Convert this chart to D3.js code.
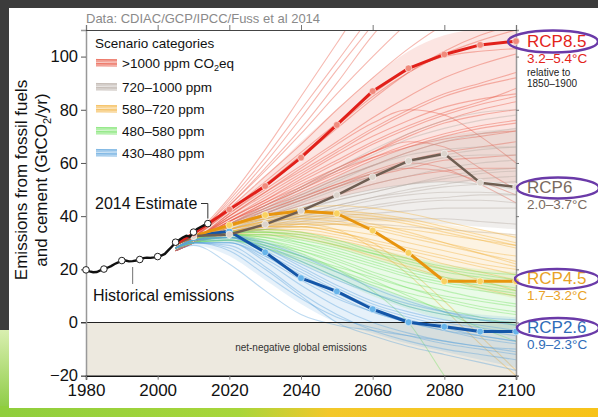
<!DOCTYPE html>
<html>
<head>
<meta charset="utf-8">
<script src="https://d3js.org/d3.v7.min.js"></script>
<style>
  body { margin: 0; background: #fff; }
  svg { display: block; font-family: "Liberation Sans", Arial, Helvetica, sans-serif; }
</style>
</head>
<body>
<svg id="chart" width="598" height="417"></svg>
<script>
// ---- data ----
const histYears = d3.range(1980, 2015);
const histValues = [19.8, 19.2, 18.9, 19.0, 19.6, 20.1, 20.6, 21.2, 22.0, 22.6,
                    23.3, 23.3, 23.0, 23.1, 23.3, 23.7, 24.2, 24.4, 24.3, 24.5,
                    24.8, 25.2, 25.8, 27.2, 28.6, 30.2, 31.0, 32.0, 32.6, 32.3,
                    34.0, 35.2, 35.9, 36.6, 37.2];
const histMarkYears = [1980, 1985, 1990, 1995, 2000, 2005, 2010, 2014];

const scenYears = [2005, 2010, 2020, 2030, 2040, 2050, 2060, 2070, 2080, 2090, 2100];

const rcpNames = ["RCP8.5", "RCP6", "RCP4.5", "RCP2.6"];
const rcpRanges = ["3.2–5.4°C", "2.0–3.7°C", "1.7–3.2°C", "0.9–2.3°C"];
const rcp85 = [29.5, 33.5, 42.5, 51.3, 62.0, 74.3, 87.0, 95.6, 100.8, 104.4, 105.8];
const rcp6  = [29.5, 32.5, 33.1, 36.9, 42.0, 47.9, 54.7, 60.8, 63.5, 52.6, 51.0];
const rcp45 = [29.5, 32.5, 36.6, 40.4, 41.9, 41.0, 34.6, 26.2, 15.5, 15.5, 15.5];
const rcp26 = [29.5, 32.5, 34.3, 26.4, 16.7, 11.7, 5.0, 0.1, -1.6, -3.4, -3.4];

const categories = [">1000 ppm", "720–1000 ppm", "580–720 ppm", "480–580 ppm", "430–480 ppm"];

// dense core of each scenario fan (lower / upper edge at scenYears)
const redCoreLo = [27, 30, 36, 40, 44, 47, 50, 52, 53, 53, 52];
const redCoreHi = [29, 33, 43, 55, 68, 80, 92, 102, 108, 110, 110];
const grayCoreLo = [27, 30, 33, 35, 37, 38, 38, 38, 37, 36, 35];
const grayCoreHi = [28, 31, 37, 43, 49, 55, 61, 66, 70, 72, 73];
const orangeCoreLo = [27, 30, 32, 32, 31, 28, 24, 20, 16, 12, 9];
const orangeCoreHi = [28, 31, 36, 40, 42, 42, 41, 39, 37, 35, 33];
const greenCoreLo = [27, 30, 30, 27, 22, 16, 10, 5, 1, -2, -4];
const greenCoreHi = [28, 31, 34, 35, 34, 31, 28, 25, 22, 20, 19];
const blueCoreLo = [27, 29, 25, 16, 7, 0, -4, -8, -11, -14, -17];
const blueCoreHi = [28, 31, 33, 31, 26, 20, 14, 9, 5, 3, 2];

// scenario members per category (values at scenYears)
const redRuns = [
  [29,33,47,65,85,105,125,140,150,160,170],
  [29,33,45,60,77,95,112,130,145,160,170],
  [28,32,44,57,71,86,100,113,125,135,145],
  [28,32,43,55,67,80,92,103,112,118,122],
  [28,32,42,52,63,74,85,94,101,106,110],
  [28,31,41,50,59,68,77,85,92,97,101],
  [28,31,40,48,56,64,72,79,85,89,92],
  [27,31,39,46,53,60,67,73,78,82,85],
  [27,31,38,45,52,58,64,70,75,78,80],
  [27,30,38,44,50,56,62,67,71,74,76],
  [27,30,37,43,48,54,59,64,68,70,72],
  [27,30,37,42,47,52,57,61,64,66,68],
  [27,30,36,41,46,51,55,58,61,62,63],
  [27,30,36,41,46,51,56,60,58,52,45],
  [27,30,37,44,51,58,64,68,66,58,50],
  [28,31,40,49,58,67,75,80,78,70,60],
  [27,30,36,40,44,48,52,55,57,58,58],
  [28,32,42,53,64,75,86,95,100,102,103],
  [27,30,36,42,47,52,56,58,57,53,48],
  [28,31,41,51,62,73,84,94,102,108,112],
  [28,32,44,58,73,90,108,122,132,140,146],
  [28,31,39,47,55,63,70,76,81,84,86],
  [27,30,38,45,51,57,62,66,69,71,72],
  [28,31,40,49,57,65,73,80,86,90,94],
  [28,32,46,62,80,98,116,132,146,158,168],
  [27,30,37,43,49,55,61,66,70,73,75],
  [28,31,39,46,54,61,68,74,79,83,88],
  [27,31,38,44,50,57,64,71,76,80,83]
];
const grayRuns = [
  [28,31,36,41,46,51,56,60,63,65,66],
  [28,31,36,40,44,48,52,55,58,60,61],
  [28,31,35,39,43,46,49,52,54,56,57],
  [28,31,35,38,41,44,47,49,51,52,53],
  [28,30,34,37,40,42,44,46,47,48,48],
  [28,30,34,36,38,40,41,42,43,43,43],
  [28,30,33,35,37,38,39,39,39,38,37],
  [28,31,36,41,47,53,59,64,68,71,73],
  [28,31,37,43,50,57,63,69,73,76,78],
  [28,30,34,37,40,43,46,48,49,49,48],
  [28,30,35,39,43,47,50,52,53,52,50],
  [28,30,33,35,36,37,37,36,35,34,33],
  [28,31,36,42,48,54,59,63,65,66,66],
  [28,30,34,38,42,46,49,52,55,57,58],
  [28,30,35,40,45,50,55,59,62,63,63],
  [28,30,33,36,39,41,43,45,46,46,45],
  [28,31,37,44,51,58,65,71,76,79,80],
  [28,30,34,37,41,44,47,50,52,54,55]
];
const orangeRuns = [
  [28,31,35,38,40,40,39,37,34,31,28],
  [28,31,35,37,38,37,35,32,29,26,23],
  [28,31,34,36,36,35,33,30,27,24,21],
  [28,31,35,38,39,39,37,34,30,26,22],
  [28,31,34,35,35,33,30,27,24,21,18],
  [28,31,36,39,41,42,41,39,36,33,30],
  [28,31,34,36,37,37,36,35,33,31,29],
  [28,31,34,35,34,32,29,26,22,19,16],
  [28,31,33,33,32,29,25,21,17,13,10],
  [28,31,35,37,37,35,28,18,5,-8,-20],
  [28,31,34,36,36,34,30,20,8,-5,-18],
  [28,31,36,40,43,44,43,41,38,35,32],
  [28,31,33,34,33,31,28,24,20,16,12],
  [28,31,35,38,39,38,36,33,30,27,25],
  [28,31,36,39,41,41,40,38,35,32,29],
  [28,31,34,36,36,34,31,28,25,22,20]
];
const greenRuns = [
  [28,31,33,32,29,25,21,17,14,12,10],
  [28,31,32,31,28,24,19,15,12,9,7],
  [28,31,33,33,31,28,24,20,17,15,13],
  [28,30,31,29,25,20,15,11,8,5,3],
  [28,31,34,34,32,29,26,23,20,18,16],
  [28,30,31,28,23,17,11,6,3,1,0],
  [28,31,33,31,27,22,16,10,4,-2,-7],
  [28,31,34,35,34,31,27,24,21,19,18],
  [28,30,32,30,26,20,12,0,-20,-40,-60],
  [28,31,32,30,27,23,18,13,9,6,4],
  [28,30,31,28,24,19,14,9,5,2,-1],
  [28,31,33,33,30,26,22,18,15,13,11],
  [28,31,33,32,30,27,23,19,16,14,12],
  [28,31,34,34,33,30,26,22,19,17,15],
  [28,30,32,29,25,21,17,13,10,8,6]
];
const blueRuns = [
  [28,31,32,27,20,13,7,3,0,-2,-4],
  [28,31,31,25,17,10,4,0,-3,-5,-7],
  [28,31,33,29,23,17,11,6,3,1,0],
  [28,30,30,23,14,6,0,-4,-7,-9,-11],
  [28,31,32,28,22,16,11,7,4,2,1],
  [28,30,29,21,11,3,-3,-7,-10,-12,-14],
  [28,31,33,30,25,19,13,8,4,1,-1],
  [28,30,30,24,16,9,4,0,-3,-6,-8],
  [28,30,27,18,9,2,-2,-5,-8,-10,-12],
  [28,31,32,26,19,12,6,2,-1,-3,-5],
  [28,30,28,20,10,0,-5,-9,-12,-15,-18],
  [27,29,22,12,3,-1,-3,-5,-7,-9,-10],
  [28,31,32,28,21,14,8,4,1,-1,-3],
  [28,30,30,25,18,11,5,1,-2,-5,-7]
];

const yTicks = [-20, 0, 20, 40, 60, 80, 100];
const xTicks = [1980, 2000, 2020, 2040, 2060, 2080, 2100];

// ---- colours ----
const runColors = ["#e8503c", "#b5aaa2", "#f2b13a", "#72e262", "#5aa2dc"];
const rcpColors = ["#e1201a", "#6f5e52", "#e8950e", "#1456a8"];
const rcpFill = ["#f08a7c", "#dcd4cc", "#f9d262", "#67b4ea"];
const rcpText = ["#e3241b", "#7a6a5e", "#e9a226", "#2f6cb8"];

const svg = d3.select("#chart");

// slide decoration behind the chart
const defs = svg.append("defs");
const gBand = defs.append("linearGradient").attr("id", "band");
gBand.append("stop").attr("offset", "0%").attr("stop-color", "#8fce3c");
gBand.append("stop").attr("offset", "40%").attr("stop-color", "#a8d63a");
gBand.append("stop").attr("offset", "55%").attr("stop-color", "#f3c82a");
gBand.append("stop").attr("offset", "100%").attr("stop-color", "#f7c31a");
const gSide = defs.append("linearGradient").attr("id", "side").attr("x1", 0).attr("y1", 0).attr("x2", 0).attr("y2", 1);
gSide.append("stop").attr("offset", "0%").attr("stop-color", "#d9efb0");
gSide.append("stop").attr("offset", "100%").attr("stop-color", "#86c83a");

svg.append("rect").attr("width", 598).attr("height", 417).attr("fill", "#3c3c3c");
svg.append("rect").attr("x", 0).attr("y", 330).attr("width", 40).attr("height", 87).attr("fill", "url(#side)");
svg.append("rect").attr("x", 0).attr("y", 406).attr("width", 598).attr("height", 11).attr("fill", "url(#band)");
svg.append("rect").attr("x", 9).attr("y", 8).attr("width", 589).attr("height", 400).attr("fill", "#fff");

// ---- scales ----
const x = d3.scaleLinear().domain([1980, 2100]).range([86, 516]);
const y = d3.scaleLinear().domain([-20, 110]).range([375.7, 30]);

// net-negative area
svg.append("rect")
  .attr("x", x(1980)).attr("y", y(0))
  .attr("width", x(2100) - x(1980)).attr("height", y(-20) - y(0))
  .attr("fill", "#ede9df");
svg.append("text").attr("x", 301).attr("y", 351).attr("text-anchor", "middle")
  .attr("font-size", 10).attr("fill", "#333").text("net-negative global emissions");

defs.append("clipPath").attr("id", "plot").append("rect")
  .attr("x", x(1980)).attr("y", y(110)).attr("width", x(2100) - x(1980)).attr("height", y(-20) - y(110));

// ---- scenario ensembles ----
const runLine = d3.line().x((d, i) => x(scenYears[i])).y(d => y(d)).curve(d3.curveMonotoneX);
const coreArea = d3.area().x(d => x(d[0])).y0(d => y(d[1])).y1(d => y(d[2])).curve(d3.curveMonotoneX);
const ens = svg.append("g").attr("clip-path", "url(#plot)");
const allRuns = [redRuns, grayRuns, orangeRuns, greenRuns, blueRuns];
const cores = [[redCoreLo, redCoreHi], [grayCoreLo, grayCoreHi], [orangeCoreLo, orangeCoreHi],
               [greenCoreLo, greenCoreHi], [blueCoreLo, blueCoreHi]];
allRuns.forEach((runs, k) => {
  ens.append("path")
    .attr("d", coreArea(scenYears.map((yr, i) => [yr, cores[k][0][i], cores[k][1][i]])))
    .attr("fill", runColors[k]).attr("fill-opacity", k === 1 ? 0.2 : 0.15);
  ens.append("g").selectAll("path").data(runs).join("path")
    .attr("d", runLine)
    .attr("fill", "none")
    .attr("stroke", runColors[k])
    .attr("stroke-opacity", 0.4)
    .attr("stroke-width", 1.1);
});

// zero line
svg.append("line").attr("x1", 81).attr("x2", x(2100)).attr("y1", y(0)).attr("y2", y(0))
  .attr("stroke", "#222").attr("stroke-width", 1.2);

// ---- axes ----
const axLeft = svg.append("g").attr("transform", `translate(${x(1980)},0)`)
  .call(d3.axisLeft(y).tickValues(yTicks).tickSize(5).tickPadding(3));
axLeft.select(".domain").attr("stroke", "#999").attr("stroke-width", 1.5);
axLeft.selectAll(".tick line").attr("stroke", "#555");
axLeft.selectAll("text").attr("font-size", 16.5).attr("fill", "#111");
axLeft.attr("font-family", null);

const axRight = svg.append("g").attr("transform", `translate(${x(2100)},0)`)
  .call(d3.axisRight(y).tickValues(yTicks).tickSize(3).tickFormat(""));
axRight.select(".domain").attr("stroke", "#999").attr("stroke-width", 1.5);
axRight.selectAll(".tick line").attr("stroke", "#777");

const axTop = svg.append("g").attr("transform", `translate(0,${y(110)})`)
  .call(d3.axisTop(x).tickValues(xTicks).tickSize(5).tickFormat(""));
axTop.select(".domain").attr("stroke", "#444").attr("stroke-width", 1.2);
axTop.selectAll(".tick line").attr("stroke", "#777");

const axBottom = svg.append("g").attr("transform", `translate(0,${y(-20)})`)
  .call(d3.axisBottom(x).tickValues(xTicks).tickSize(4).tickPadding(4).tickFormat(d3.format("d")));
axBottom.select(".domain").attr("stroke", "#111").attr("stroke-width", 1.5);
axBottom.selectAll(".tick line").attr("stroke", "#777");
axBottom.selectAll("text").attr("font-size", 17).attr("fill", "#111");
axBottom.attr("font-family", null);

// y label
const ylab = svg.append("text").attr("transform", "translate(27,180) rotate(-90)")
  .attr("text-anchor", "middle").attr("font-size", 17).attr("fill", "#111");
ylab.append("tspan").attr("x", 0).attr("dy", 0).text("Emissions from fossil fuels");
const ylab2 = svg.append("text").attr("transform", "translate(46.5,180) rotate(-90)")
  .attr("text-anchor", "middle").attr("font-size", 17).attr("fill", "#111");
ylab2.append("tspan").text("and cement (GtCO");
ylab2.append("tspan").attr("font-size", 11).attr("dy", 4).text("2");
ylab2.append("tspan").attr("dy", -4).text("/yr)");

// source line
svg.append("text").attr("x", 86).attr("y", 23).attr("font-size", 13).attr("fill", "#8a8a8a")
  .text("Data: CDIAC/GCP/IPCC/Fuss et al 2014");

// ---- RCP pathways ----
const rcpData = [rcp85, rcp6, rcp45, rcp26];
const rcpLine = d3.line().x((d, i) => x(scenYears[i])).y(d => y(d));
// draw in order so RCP8.5 stays on top of the others near 2010
[3, 2, 1, 0].forEach(k => {
  svg.append("path").attr("d", rcpLine(rcpData[k]))
    .attr("fill", "none").attr("stroke", rcpColors[k])
    .attr("stroke-width", k === 1 ? 2.5 : 3).attr("stroke-linejoin", "round");
  svg.append("g").selectAll("circle")
    .data(rcpData[k].map((v, i) => [scenYears[i], v]).filter(d => d[0] >= 2010))
    .join("circle")
    .attr("cx", d => x(d[0])).attr("cy", d => y(d[1])).attr("r", 3.4)
    .attr("fill", rcpFill[k]).attr("stroke", "#fff").attr("stroke-width", 0.5);
});

// ---- historical ----
svg.append("path")
  .attr("d", d3.line().x((d, i) => x(histYears[i])).y(d => y(d))(histValues))
  .attr("fill", "none").attr("stroke", "#111").attr("stroke-width", 2.4);
svg.append("g").selectAll("circle")
  .data(histMarkYears)
  .join("circle")
  .attr("cx", d => x(d)).attr("cy", d => y(histValues[histYears.indexOf(d)])).attr("r", 3.3)
  .attr("fill", "#fff").attr("stroke", "#222").attr("stroke-width", 1);

// annotations
svg.append("text").attr("x", 95).attr("y", 209).attr("font-size", 16).attr("fill", "#111").text("2014 Estimate");
svg.append("path")
  .attr("d", `M201,203.5 H${x(2014)} V${y(histValues[histValues.length - 1]) - 5}`)
  .attr("fill", "none").attr("stroke", "#333").attr("stroke-width", 1);
svg.append("text").attr("x", 93).attr("y", 301).attr("font-size", 16).attr("fill", "#111").text("Historical emissions");
svg.append("line").attr("x1", x(1993)).attr("x2", x(1993)).attr("y1", y(22) + 3).attr("y2", 284)
  .attr("stroke", "#888").attr("stroke-width", 1.2);

// ---- legend ----
const leg = svg.append("g");
leg.append("text").attr("x", 95).attr("y", 48).attr("font-size", 13.5).attr("fill", "#111").text("Scenario categories");
const rowY = [63, 87, 109, 131, 153];
categories.forEach((c, i) => {
  const g = leg.append("g").attr("transform", `translate(96,${rowY[i]})`);
  g.append("rect").attr("x", 0).attr("y", -4).attr("width", 21).attr("height", 8)
    .attr("fill", runColors[i]).attr("opacity", 0.55);
  [-3, -1, 1, 3].forEach((o, j) => {
    g.append("line").attr("x1", 0).attr("x2", 21).attr("y1", o + (j % 2 ? 0.6 : -0.6)).attr("y2", o)
      .attr("stroke", j % 2 ? "#fff" : runColors[i]).attr("stroke-opacity", 0.6).attr("stroke-width", 0.8);
  });
  const t = leg.append("text").attr("x", 122).attr("y", rowY[i] + 4.5).attr("font-size", 13.5).attr("fill", "#111").text(c);
  if (i === 0) {
    t.append("tspan").text(" CO");
    t.append("tspan").attr("font-size", 9).attr("dy", 3).text("2");
    t.append("tspan").attr("dy", -3).text("eq");
  }
});

// ---- right-hand labels ----
const labY = [47, 193, 284, 333];
const labSubY = [63, 209, 300, 349];
const ellipses = [[553, 41.5, 45, 11], [558, 188, 41, 10.5], [557, 279, 42, 10], [558, 328, 41, 10]];
rcpNames.forEach((n, i) => {
  svg.append("text").attr("x", 527).attr("y", labY[i]).attr("font-size", 17).attr("fill", rcpText[i]).text(n);
  svg.append("text").attr("x", 527).attr("y", labSubY[i]).attr("font-size", 13.5).attr("fill", rcpText[i]).text(rcpRanges[i]);
  svg.append("ellipse").attr("cx", ellipses[i][0]).attr("cy", ellipses[i][1])
    .attr("rx", ellipses[i][2]).attr("ry", ellipses[i][3])
    .attr("fill", "none").attr("stroke", "#6a3aa8").attr("stroke-width", 2.4);
});
svg.append("text").attr("x", 527).attr("y", 76).attr("font-size", 10).attr("fill", "#222").text("relative to");
svg.append("text").attr("x", 527).attr("y", 87).attr("font-size", 10).attr("fill", "#222").text("1850–1900");
</script>
</body>
</html>
